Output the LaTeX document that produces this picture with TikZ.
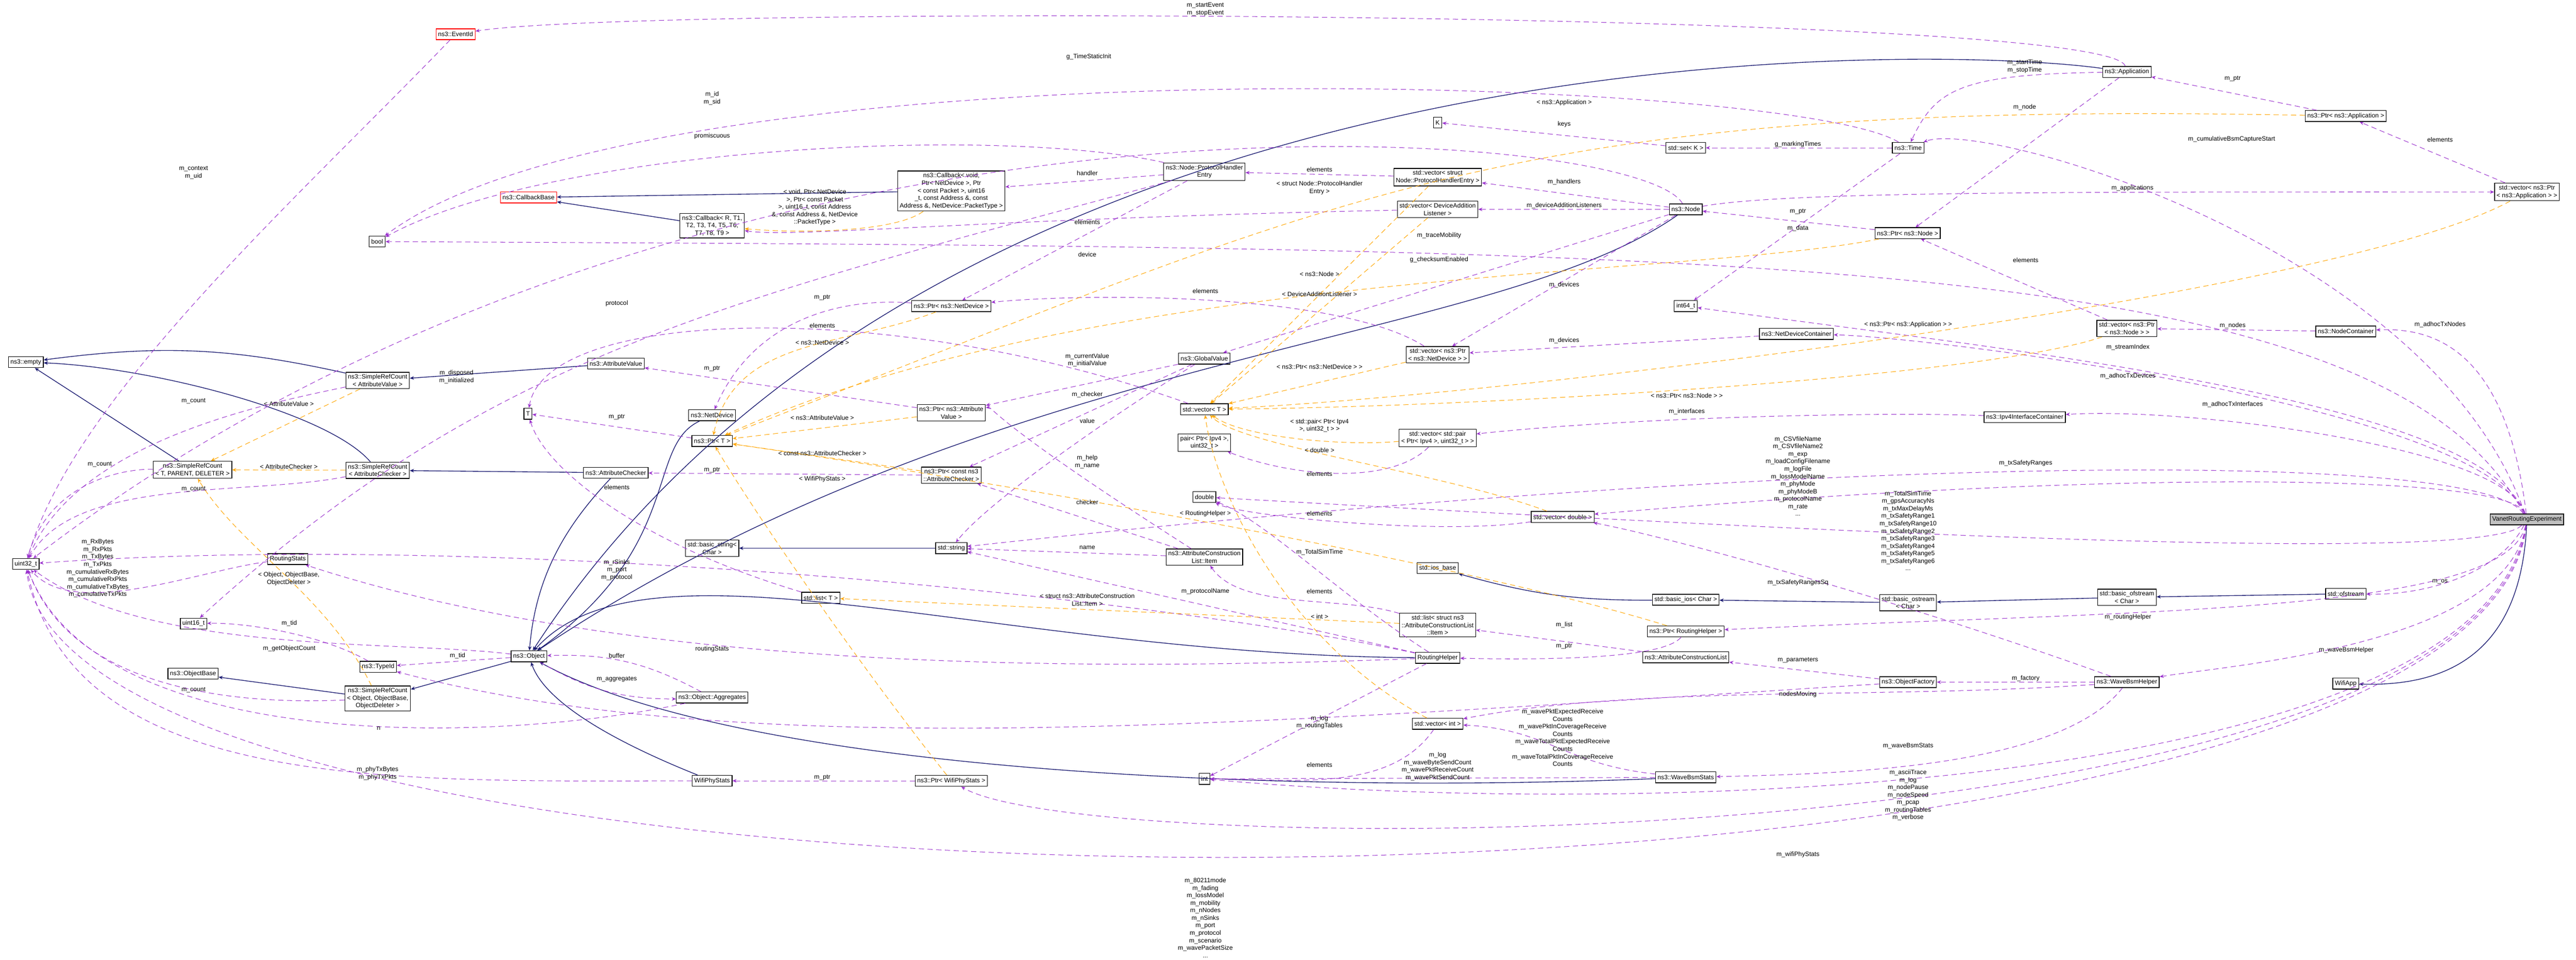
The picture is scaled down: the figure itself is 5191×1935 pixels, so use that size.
\documentclass[tikz,border=0pt]{standalone}
\usepackage{fontspec}
\setmainfont{Liberation Sans}
\usetikzlibrary{arrows.meta}
\definecolor{usecol}{HTML}{9A32CD}
\definecolor{inhcol}{HTML}{191970}
\definecolor{tplcol}{HTML}{FFA500}
\tikzset{
  cls/.style={draw=black, fill=white, align=center, inner sep=1.2pt, minimum height=0.22cm, font=\fontsize{3.6}{4.3}\selectfont},
  redcls/.style={cls, draw=red},
  lbl/.style={align=center, inner sep=0pt, font=\fontsize{3.6}{4.3}\selectfont},
  uses/.style={usecol, densely dashed, line width=0.3pt, -{Stealth[length=2.4pt,width=2pt]}},
  inh/.style={inhcol, line width=0.4pt, -{Stealth[length=2.4pt,width=2pt]}},
  tpl/.style={tplcol, densely dashed, line width=0.3pt, -{Stealth[length=2.4pt,width=2pt]}}
}
\begin{document}
\begin{tikzpicture}[x=0.01cm, y=-0.01cm]
\useasboundingbox (0,0) rectangle (5191,1935);
% left column
\node[redcls] (evt) at (918,69) {ns3::EventId};
\node[cls] (bool) at (760,487) {bool};
\node[redcls] (cbb) at (1065,398) {ns3::CallbackBase};
\node[cls] (cbR) at (1435,455) {ns3::Callback< R, T1,\\T2, T3, T4, T5, T6,\\T7, T8, T9 >};
\node[cls] (empty) at (52,730) {ns3::empty};
\node[cls] (srcAV) at (761,767) {ns3::SimpleRefCount\\< AttributeValue >};
\node[cls] (av) at (1241,733) {ns3::AttributeValue};
\node[cls] (T) at (1064,834) {T};
\node[cls] (nd) at (1435,837) {ns3::NetDevice};
\node[cls] (ptrT) at (1435,889) {ns3::Ptr< T >};
\node[cls] (srcT) at (388,947) {ns3::SimpleRefCount\\< T, PARENT, DELETER >};
\node[cls] (srcAC) at (761,948) {ns3::SimpleRefCount\\< AttributeChecker >};
\node[cls] (ac) at (1241,953) {ns3::AttributeChecker};
\node[cls] (u32) at (52,1137) {uint32\_t};
\node[cls] (rstats) at (580,1127) {RoutingStats};
\node[cls] (u16) at (390,1257) {uint16\_t};
\node[cls] (obase) at (389,1358) {ns3::ObjectBase};
\node[cls] (tid) at (762,1344) {ns3::TypeId};
\node[cls] (obj) at (1066,1323) {ns3::Object};
\node[cls] (srcObj) at (761,1408) {ns3::SimpleRefCount\\< Object, ObjectBase,\\ObjectDeleter >};
\node[cls] (aggr) at (1435,1406) {ns3::Object::Aggregates};
\node[cls] (bstr) at (1435,1105) {std::basic\_string<\\Char >};
\node[cls] (listT) at (1654,1205) {std::list< T >};
\node[cls] (wps) at (1435,1574) {WifiPhyStats};
% middle
\node[cls] (phe) at (2427,346) {ns3::Node::ProtocolHandler\\Entry};
\node[cls] (cbv) at (1917,385) {ns3::Callback< void,\\Ptr< NetDevice >, Ptr\\< const Packet >, uint16\\\_t, const Address \&, const\\Address \&, NetDevice::PacketType >};
\node[cls] (vphe) at (2897,357) {std::vector< struct\\Node::ProtocolHandlerEntry >};
\node[cls] (K) at (2897,247) {K};
\node[cls] (setK) at (3397,298) {std::set< K >};
\node[cls] (node) at (3397,422) {ns3::Node};
\node[cls] (vdal) at (2897,422) {std::vector< DeviceAddition\\Listener >};
\node[cls] (ptrND) at (1917,617) {ns3::Ptr< ns3::NetDevice >};
\node[cls] (i64) at (3397,617) {int64\_t};
\node[cls] (gv) at (2427,723) {ns3::GlobalValue};
\node[cls] (vpnd) at (2897,715) {std::vector< ns3::Ptr\\< ns3::NetDevice > >};
\node[cls] (ptrAV) at (1917,832) {ns3::Ptr< ns3::Attribute\\Value >};
\node[cls] (vecT) at (2427,825) {std::vector< T >};
\node[cls] (pair) at (2427,892) {pair< Ptr< Ipv4 >,\\uint32\_t >};
\node[cls] (vpair) at (2897,883) {std::vector< std::pair\\< Ptr< Ipv4 >, uint32\_t > >};
\node[cls] (ptrAC) at (1917,958) {ns3::Ptr< const ns3\\::AttributeChecker >};
\node[cls] (dbl) at (2427,1002) {double};
\node[cls] (vdbl) at (3149,1042) {std::vector< double >};
\node[cls] (str) at (1917,1105) {std::string};
\node[cls] (acli) at (2427,1123) {ns3::AttributeConstruction\\List::Item};
\node[cls] (iosb) at (2897,1145) {std::ios\_base};
\node[cls] (bios) at (3397,1209) {std::basic\_ios< Char >};
\node[cls] (lacli) at (2897,1260) {std::list< struct ns3\\::AttributeConstructionList\\::Item >};
\node[cls] (ptrRH) at (3397,1273) {ns3::Ptr< RoutingHelper >};
\node[cls] (rh) at (2897,1326) {RoutingHelper};
\node[cls] (acl) at (3397,1325) {ns3::AttributeConstructionList};
\node[cls] (vint) at (2897,1459) {std::vector< int >};
\node[cls] (int) at (2427,1570) {int};
\node[cls] (wbs) at (3397,1567) {ns3::WaveBsmStats};
\node[cls] (ptrWPS) at (1917,1574) {ns3::Ptr< WifiPhyStats >};
% right
\node[cls] (app) at (4286,145) {ns3::Application};
\node[cls] (ptrApp) at (4727,234) {ns3::Ptr< ns3::Application >};
\node[cls] (time) at (3845,298) {ns3::Time};
\node[cls] (vpapp) at (5092,387) {std::vector< ns3::Ptr\\< ns3::Application > >};
\node[cls] (ptrNode) at (3844,470) {ns3::Ptr< ns3::Node >};
\node[cls] (vpnode) at (4286,662) {std::vector< ns3::Ptr\\< ns3::Node > >};
\node[cls] (nc) at (4727,668) {ns3::NodeContainer};
\node[cls] (ndc) at (3620,673) {ns3::NetDeviceContainer};
\node[cls] (ipic) at (4080,841) {ns3::Ipv4InterfaceContainer};
\node[cls, fill=black!25] (vre) at (5092,1047) {VanetRoutingExperiment};
\node[cls] (bos) at (3845,1215) {std::basic\_ostream\\< Char >};
\node[cls] (bofs) at (4286,1204) {std::basic\_ofstream\\< Char >};
\node[cls] (ofs) at (4727,1197) {std::ofstream};
\node[cls] (of) at (3845,1375) {ns3::ObjectFactory};
\node[cls] (wbh) at (4286,1375) {ns3::WaveBsmHelper};
\node[cls] (wapp) at (4727,1378) {WifiApp};

% inheritance
\draw[inh] (srcAV) to[bend right=10] (empty);
\draw[inh] (srcAC) .. controls (660,830) and (300,740) .. (empty);
\draw[inh] (srcT) -- (empty);
\draw[inh] (av) -- (srcAV);
\draw[inh] (ac) -- (srcAC);
\draw[inh] (obj) -- (srcObj);
\draw[inh] (srcObj) -- (obase);
\draw[inh] (cbv) -- (cbb);
\draw[inh] (cbR) -- (cbb);
\draw[inh] (app) .. controls (3900,90) and (1900,40) .. (obj);
\draw[inh] (node) .. controls (3000,700) and (2000,700) .. (obj);
\draw[inh] (nd) .. controls (1300,900) and (1380,1100) .. (obj);
\draw[inh] (ac) .. controls (1150,1050) and (1080,1150) .. (obj);
\draw[inh] (rh) .. controls (2000,1320) and (1300,1060) .. (obj);
\draw[inh] (wps) .. controls (1250,1500) and (1100,1420) .. (obj);
\draw[inh] (wbs) .. controls (2600,1600) and (1500,1560) .. (obj);
\draw[inh] (str) -- (bstr);
\draw[inh] (ofs) -- (bofs);
\draw[inh] (bofs) -- (bos);
\draw[inh] (bos) -- (bios);
\draw[inh] (bios) to[bend left=8] (iosb);
\draw[inh] (vre) .. controls (5080,1300) and (4950,1385) .. (wapp);

% usage
\draw[uses] (app) .. controls (4250,20) and (1300,10) .. (evt);
\draw[uses] (app) .. controls (3950,150) and (3900,180) .. (time);
\draw[uses] (app) -- (ptrNode);
\draw[uses] (ptrApp) -- (app);
\draw[uses] (vpapp) -- (ptrApp);
\draw[uses] (node) .. controls (3600,385) and (4200,387) .. (vpapp);
\draw[uses] (ptrNode) -- (node);
\draw[uses] (time) -- (i64);
\draw[uses] (time) -- (setK);
\draw[uses] (setK) -- (K);
\draw[uses] (time) .. controls (3600,150) and (1300,80) .. (bool);
\draw[uses] (node) .. controls (3300,250) and (1400,100) .. (u32);
\draw[uses] (node) -- (vphe);
\draw[uses] (node) -- (vdal);
\draw[uses] (node) -- (vpnd);
\draw[uses] (node) -- (gv);
\draw[uses] (vphe) -- (phe);
\draw[uses] (phe) -- (cbv);
\draw[uses] (phe) -- (ptrND);
\draw[uses] (phe) .. controls (2000,250) and (1100,300) .. (bool);
\draw[uses] (phe) .. controls (1500,600) and (1000,700) .. (u16);
\draw[uses] (vdal) .. controls (2000,440) and (1600,480) .. (cbR);
\draw[uses] (vpnd) .. controls (2700,590) and (2200,590) .. (ptrND);
\draw[uses] (ptrND) .. controls (1700,600) and (1520,640) .. (nd);
\draw[uses] (ptrT) -- (T);
\draw[uses] (listT) .. controls (1300,1100) and (1100,950) .. (T);
\draw[uses] (vecT) .. controls (1800,600) and (1100,620) .. (T);
\draw[uses] (ptrAV) -- (av);
\draw[uses] (ptrAC) -- (ac);
\draw[uses] (gv) -- (ptrAV);
\draw[uses] (gv) -- (ptrAC);
\draw[uses] (gv) .. controls (2300,800) and (2000,1000) .. (str);
\draw[uses] (acli) .. controls (2000,850) and (2000,820) .. (ptrAV);
\draw[uses] (acli) -- (ptrAC);
\draw[uses] (acli) -- (str);
\draw[uses] (lacli) .. controls (2700,1200) and (2500,1230) .. (acli);
\draw[uses] (acl) -- (lacli);
\draw[uses] (rh) -- (str);
\draw[uses] (rh) -- (int);
\draw[uses] (ptrRH) .. controls (3350,1330) and (3100,1330) .. (rh);
\draw[uses] (vdbl) .. controls (2900,1080) and (2500,1040) .. (dbl);
\draw[uses] (vint) .. controls (2800,1600) and (2600,1570) .. (int);
\draw[uses] (wbs) .. controls (3150,1540) and (3120,1470) .. (vint);
\draw[uses] (wbs) -- (int);
\draw[uses] (wbh) .. controls (4150,1550) and (3700,1560) .. (wbs);
\draw[uses] (wbh) -- (of);
\draw[uses] (of) -- (acl);
\draw[uses] (wbh) .. controls (3800,1200) and (3350,1080) .. (vdbl);
\draw[uses] (wbh) .. controls (3800,1410) and (3300,1380) .. (vint);
\draw[uses] (of) .. controls (2500,1460) and (1500,1540) .. (tid);
\draw[uses] (obj) -- (tid);
\draw[uses] (tid) .. controls (650,1280) and (500,1255) .. (u16);
\draw[uses] (obj) .. controls (800,1290) and (300,1320) .. (u32);
\draw[uses] (obj) to[bend right=15] (aggr);
\draw[uses] (aggr) to[bend right=15] (obj);
\draw[uses] (aggr) .. controls (1000,1500) and (200,1520) .. (u32);
\draw[uses] (srcObj) .. controls (500,1420) and (150,1400) .. (u32);
\draw[uses] (srcAC) .. controls (500,1000) and (150,960) .. (u32);
\draw[uses] (srcT) .. controls (250,945) and (100,970) .. (u32);
\draw[uses] (srcAV) .. controls (500,820) and (150,900) .. (u32);
\draw[uses] (evt) .. controls (600,400) and (150,800) .. (u32);
\draw[uses] (rstats) .. controls (400,1150) and (150,1250) .. (u32);
\draw[uses] (wps) .. controls (800,1574) and (150,1600) .. (u32);
\draw[uses] (ptrWPS) -- (wps);
\draw[uses] (rh) .. controls (2000,1360) and (1200,1330) .. (rstats);
\draw[uses] (rh) .. controls (2300,1200) and (1000,1070) .. (u32);
\draw[uses] (vre) .. controls (4900,500) and (4000,240) .. (time);
\draw[uses] (vre) .. controls (5050,700) and (4900,660) .. (nc);
\draw[uses] (nc) -- (vpnode);
\draw[uses] (vpnode) -- (ptrNode);
\draw[uses] (vre) .. controls (5000,800) and (4000,700) .. (i64);
\draw[uses] (vre) .. controls (5000,820) and (3900,680) .. (ndc);
\draw[uses] (ndc) -- (vpnd);
\draw[uses] (vre) .. controls (5050,900) and (4400,820) .. (ipic);
\draw[uses] (ipic) .. controls (3800,830) and (3300,840) .. (vpair);
\draw[uses] (vpair) .. controls (2800,980) and (2600,960) .. (pair);
\draw[uses] (vre) .. controls (5000,900) and (3600,920) .. (str);
\draw[uses] (vre) .. controls (5000,1150) and (3300,1050) .. (dbl);
\draw[uses] (vre) .. controls (5060,950) and (4200,950) .. (vdbl);
\draw[uses] (vre) .. controls (5040,1150) and (4900,1200) .. (ofs);
\draw[uses] (vre) .. controls (5050,1240) and (4300,1230) .. (ptrRH);
\draw[uses] (vre) .. controls (5050,1300) and (4500,1340) .. (wbh);
\draw[uses] (vre) .. controls (5000,1600) and (3300,1650) .. (int);
\draw[uses] (vre) .. controls (5000,1740) and (2200,1740) .. (ptrWPS);
\draw[uses] (vre) .. controls (5000,1935) and (150,1935) .. (u32);
\draw[uses] (vre) .. controls (4800,500) and (3500,500) .. (bool);
\draw[uses] (rh) .. controls (2700,1200) and (2550,1050) .. (dbl);

% templates
\draw[tpl] (srcAV) -- (srcT);
\draw[tpl] (srcAC) -- (srcT);
\draw[tpl] (srcObj) .. controls (660,1200) and (480,1100) .. (srcT);
\draw[tpl] (ptrND) .. controls (1700,700) and (1480,680) .. (ptrT);
\draw[tpl] (ptrAV) -- (ptrT);
\draw[tpl] (ptrAC) -- (ptrT);
\draw[tpl] (ptrWPS) .. controls (1700,1300) and (1500,1000) .. (ptrT);
\draw[tpl] (ptrApp) .. controls (3000,200) and (2700,400) .. (ptrT);
\draw[tpl] (ptrNode) .. controls (3400,560) and (2200,540) .. (ptrT);
\draw[tpl] (ptrRH) .. controls (3000,1150) and (2200,1000) .. (ptrT);
\draw[tpl] (cbv) .. controls (1800,470) and (1600,470) .. (cbR);
\draw[tpl] (vphe) -- (vecT);
\draw[tpl] (vdal) -- (vecT);
\draw[tpl] (vpnd) -- (vecT);
\draw[tpl] (vpnode) .. controls (4000,760) and (3000,820) .. (vecT);
\draw[tpl] (vpapp) .. controls (4700,600) and (3000,800) .. (vecT);
\draw[tpl] (vpair) .. controls (2700,900) and (2500,880) .. (vecT);
\draw[tpl] (vdbl) .. controls (2900,950) and (2500,900) .. (vecT);
\draw[tpl] (vint) .. controls (2600,1300) and (2450,1000) .. (vecT);
\draw[tpl] (lacli) -- (listT);

% labels
\node[lbl] (l01) at (2429,19) {m\_startEvent\\m\_stopEvent};
\node[lbl] (l02) at (4080,134) {m\_startTime\\m\_stopTime};
\node[lbl] (l03) at (4080,216) {m\_node};
\node[lbl] (l04) at (4499,159) {m\_ptr};
\node[lbl] (l05) at (4917,281) {elements};
\node[lbl] (l06) at (4297,379) {m\_applications};
\node[lbl] (l07) at (3623,427) {m\_ptr};
\node[lbl] (l08) at (3623,460) {m\_data};
\node[lbl] (l09) at (3623,291) {g\_markingTimes};
\node[lbl] (l10) at (3152,251) {keys};
\node[lbl] (l11) at (2194,115) {g\_TimeStaticInit};
\node[lbl] (l12) at (1435,198) {m\_id\\m\_sid};
\node[lbl] (l13) at (3152,367) {m\_handlers};
\node[lbl] (l14) at (3152,415) {m\_deviceAdditionListeners};
\node[lbl] (l15) at (3152,574) {m\_devices};
\node[lbl] (l16) at (2659,342) {elements};
\node[lbl] (l17) at (2191,349) {handler};
\node[lbl] (l18) at (2191,513) {device};
\node[lbl] (l19) at (1435,274) {promiscuous};
\node[lbl] (l20) at (1243,612) {protocol};
\node[lbl] (l21) at (2191,448) {elements};
\node[lbl] (l22) at (2429,587) {elements};
\node[lbl] (l23) at (1657,600) {m\_ptr};
\node[lbl] (l24) at (1243,841) {m\_ptr};
\node[lbl] (l25) at (1243,982) {elements};
\node[lbl] (l26) at (1657,656) {elements};
\node[lbl] (l27) at (1435,743) {m\_ptr};
\node[lbl] (l28) at (1435,948) {m\_ptr};
\node[lbl] (l29) at (2191,726) {m\_currentValue\\m\_initialValue};
\node[lbl] (l30) at (2191,796) {m\_checker};
\node[lbl] (l31) at (2191,931) {m\_help\\m\_name};
\node[lbl] (l32) at (2191,848) {value};
\node[lbl] (l33) at (2191,1012) {checker};
\node[lbl] (l34) at (2191,1104) {name};
\node[lbl] (l35) at (2659,1192) {elements};
\node[lbl] (l36) at (3152,1260) {m\_list};
\node[lbl] (l37) at (2429,1192) {m\_protocolName};
\node[lbl] (l38) at (2659,1456) {m\_log\\m\_routingTables};
\node[lbl] (l39) at (3152,1303) {m\_ptr};
\node[lbl] (l40) at (2659,1035) {elements};
\node[lbl] (l41) at (2659,1542) {elements};
\node[lbl] (l42) at (3149,1487) {m\_wavePktExpectedReceive\\Counts\\m\_wavePktInCoverageReceive\\Counts\\m\_waveTotalPktExpectedReceive\\Counts\\m\_waveTotalPktInCoverageReceive\\Counts};
\node[lbl] (l43) at (2897,1545) {m\_log\\m\_waveByteSendCount\\m\_wavePktReceiveCount\\m\_wavePktSendCount};
\node[lbl] (l44) at (3845,1504) {m\_waveBsmStats};
\node[lbl] (l45) at (4082,1368) {m\_factory};
\node[lbl] (l46) at (3623,1331) {m\_parameters};
\node[lbl] (l47) at (3623,1175) {m\_txSafetyRangesSq};
\node[lbl] (l48) at (3623,1400) {nodesMoving};
\node[lbl] (l49) at (922,1322) {m\_tid};
\node[lbl] (l50) at (583,1256) {m\_tid};
\node[lbl] (l51) at (583,1307) {m\_getObjectCount};
\node[lbl] (l52) at (1243,1369) {m\_aggregates};
\node[lbl] (l53) at (1243,1322) {buffer};
\node[lbl] (l54) at (390,1391) {m\_count};
\node[lbl] (l55) at (390,986) {m\_count};
\node[lbl] (l56) at (201,936) {m\_count};
\node[lbl] (l57) at (390,808) {m\_count};
\node[lbl] (l58) at (390,348) {m\_context\\m\_uid};
\node[lbl] (l59) at (197,1146) {m\_RxBytes\\m\_RxPkts\\m\_TxBytes\\m\_TxPkts\\m\_cumulativeRxBytes\\m\_cumulativeRxPkts\\m\_cumulativeTxBytes\\m\_cumulativeTxPkts};
\node[lbl] (l60) at (761,1559) {m\_phyTxBytes\\m\_phyTxPkts};
\node[lbl] (l61) at (1657,1567) {m\_ptr};
\node[lbl] (l62) at (1435,1308) {routingStats};
\node[lbl] (l63) at (2900,524) {g\_checksumEnabled};
\node[lbl] (l64) at (2900,475) {m\_traceMobility};
\node[lbl] (l65) at (4497,281) {m\_cumulativeBsmCaptureStart};
\node[lbl] (l66) at (4917,654) {m\_adhocTxNodes};
\node[lbl] (l67) at (4499,656) {m\_nodes};
\node[lbl] (l68) at (4082,524) {elements};
\node[lbl] (l69) at (4288,700) {m\_streamIndex};
\node[lbl] (l70) at (4288,758) {m\_adhocTxDevices};
\node[lbl] (l71) at (3152,687) {m\_devices};
\node[lbl] (l72) at (4499,815) {m\_adhocTxInterfaces};
\node[lbl] (l73) at (3399,830) {m\_interfaces};
\node[lbl] (l74) at (2659,955) {elements};
\node[lbl] (l75) at (3623,960) {m\_CSVfileName\\m\_CSVfileName2\\m\_exp\\m\_loadConfigFilename\\m\_logFile\\m\_lossModelName\\m\_phyMode\\m\_phyModeB\\m\_protocolName\\m\_rate\\...};
\node[lbl] (l76) at (3845,1070) {m\_TotalSimTime\\m\_gpsAccuracyNs\\m\_txMaxDelayMs\\m\_txSafetyRange1\\m\_txSafetyRange10\\m\_txSafetyRange2\\m\_txSafetyRange3\\m\_txSafetyRange4\\m\_txSafetyRange5\\m\_txSafetyRange6\\...};
\node[lbl] (l77) at (4082,934) {m\_txSafetyRanges};
\node[lbl] (l78) at (4917,1173) {m\_os};
\node[lbl] (l79) at (4288,1244) {m\_routingHelper};
\node[lbl] (l80) at (4728,1311) {m\_waveBsmHelper};
\node[lbl] (l81) at (3845,1603) {m\_asciiTrace\\m\_log\\m\_nodePause\\m\_nodeSpeed\\m\_pcap\\m\_routingTables\\m\_verbose};
\node[lbl] (l82) at (3623,1723) {m\_wifiPhyStats};
\node[lbl] (l83) at (2429,1850) {m\_80211mode\\m\_fading\\m\_lossModel\\m\_mobility\\m\_nNodes\\m\_nSinks\\m\_port\\m\_protocol\\m\_scenario\\m\_wavePacketSize\\...};
\node[lbl] (l84) at (2659,1113) {m\_TotalSimTime};
\node[lbl] (l85) at (1243,1149) {m\_rSinks\\m\_port\\m\_protocol};
\node[lbl] (l86) at (763,1468) {n};
\node[lbl] (l87) at (920,760) {m\_disposed\\m\_initialized};
% template labels
\node[lbl] (t01) at (582,814) {< AttributeValue >};
\node[lbl] (t02) at (582,941) {< AttributeChecker >};
\node[lbl] (t03) at (582,1167) {< Object, ObjectBase,\\ObjectDeleter >};
\node[lbl] (t04) at (1657,691) {< ns3::NetDevice >};
\node[lbl] (t05) at (1657,842) {< ns3::AttributeValue >};
\node[lbl] (t06) at (1657,914) {< const ns3::AttributeChecker >};
\node[lbl] (t07) at (1657,966) {< WifiPhyStats >};
\node[lbl] (t08) at (3152,207) {< ns3::Application >};
\node[lbl] (t09) at (2659,552) {< ns3::Node >};
\node[lbl] (t10) at (2429,1035) {< RoutingHelper >};
\node[lbl] (t11) at (1642,418) {< void, Ptr< NetDevice\\>, Ptr< const Packet\\>, uint16\_t, const Address\\\&, const Address \&, NetDevice\\::PacketType >};
\node[lbl] (t12) at (2659,379) {< struct Node::ProtocolHandler\\Entry >};
\node[lbl] (t13) at (2659,593) {< DeviceAdditionListener >};
\node[lbl] (t14) at (2659,739) {< ns3::Ptr< ns3::NetDevice > >};
\node[lbl] (t15) at (3399,797) {< ns3::Ptr< ns3::Node > >};
\node[lbl] (t16) at (3845,654) {< ns3::Ptr< ns3::Application > >};
\node[lbl] (t17) at (2659,858) {< std::pair< Ptr< Ipv4\\>, uint32\_t > >};
\node[lbl] (t18) at (2659,908) {< double >};
\node[lbl] (t19) at (2659,1243) {< int >};
\node[lbl] (t20) at (2191,1209) {< struct ns3::AttributeConstruction\\List::Item >};
\end{tikzpicture}
\end{document}
